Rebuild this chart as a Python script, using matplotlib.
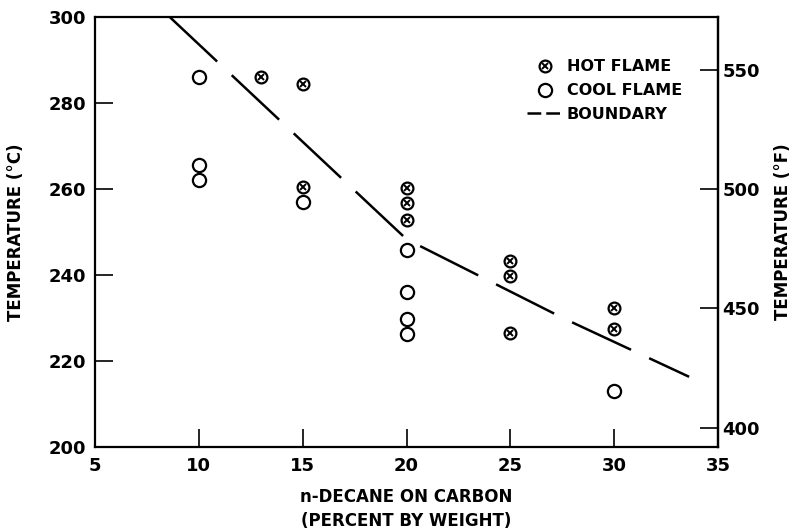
import matplotlib
matplotlib.use("Agg")
import matplotlib.pyplot as plt
from matplotlib.lines import Line2D
from matplotlib.legend_handler import HandlerTuple

# data
hot_x = [13, 15, 15, 20, 20, 20, 25, 25, 25, 30, 30]
hot_y = [286, 284.5, 260.5, 260.3, 256.7, 252.8, 243.3, 239.7, 226.5, 232.2, 227.4]

cool_x = [10, 10, 10, 15, 20, 20, 20, 20, 30]
cool_y = [286, 265.5, 262, 257, 245.8, 236, 229.8, 226.2, 213.1]

bound_x = [8.6, 20, 27.6, 33.6]
bound_y = [300, 248.3, 229.8, 216.3]

x_ticks = [5, 10, 15, 20, 25, 30, 35]
c_ticks = [200, 220, 240, 260, 280, 300]
f_ticks = [400, 450, 500, 550]

plt.rcParams['font.family'] = ['DejaVu Sans']
plt.rcParams['font.weight'] = 'bold'
plt.rcParams['axes.labelweight'] = 'bold'

fig = plt.figure(figsize=(7.91, 5.32), dpi=100)
ax = fig.add_axes([0.120, 0.160, 0.788, 0.808])

# boundary line, long dashes
ax.plot(bound_x, bound_y, color='black', lw=1.8, dashes=(26, 8), clip_on=True)

# cool flame: open circles
ax.plot(cool_x, cool_y, 'o', ms=9.5, mfc='white', mec='black', mew=1.6, ls='none')
# hot flame: circle with a cross inside
ax.plot(hot_x, hot_y, 'o', ms=8.5, mfc='white', mec='black', mew=1.6, ls='none')
ax.plot(hot_x, hot_y, 'x', ms=5, mec='black', mew=1.4, ls='none')

ax.set_xlim(5, 35)
ax.set_ylim(200, 300)
ax.set_xticks(x_ticks)
ax.set_yticks(c_ticks)

for s in ax.spines.values():
    s.set_linewidth(1.6)

ax.tick_params(axis='both', direction='in', length=13, width=1.2, labelsize=13)
ax.tick_params(axis='x', pad=7)
ax.tick_params(axis='y', pad=6)

ax.set_ylabel('TEMPERATURE (°C)', fontsize=12, labelpad=17)
ax.set_xlabel('n-DECANE ON CARBON\n(PERCENT BY WEIGHT)', fontsize=12, labelpad=10,
              linespacing=1.4)

def c2f(c):
    return c * 9.0 / 5.0 + 32


def f2c(f):
    return (f - 32) * 5.0 / 9.0


sec = ax.secondary_yaxis('right', functions=(c2f, f2c))
sec.set_yticks(f_ticks)
sec.tick_params(direction='in', length=13, width=1.2, labelsize=13, pad=3)
sec.spines['right'].set_linewidth(1.6)
sec.set_ylabel('TEMPERATURE (°F)', fontsize=12, labelpad=10)

# legend
h_hot = (Line2D([], [], marker='o', ms=8.5, mfc='white', mec='black', mew=1.6, ls='none'),
         Line2D([], [], marker='x', ms=5, mec='black', mew=1.4, ls='none'))
h_cool = Line2D([], [], marker='o', ms=9.5, mfc='white', mec='black', mew=1.6, ls='none')
h_bound = Line2D([], [], color='black', lw=1.8, dashes=(5.5, 2))
ax.legend([h_hot, h_cool, h_bound], ['HOT FLAME', 'COOL FLAME', 'BOUNDARY'],
          handler_map={tuple: HandlerTuple(ndivide=1)},
          loc='upper right', bbox_to_anchor=(0.955, 0.92), frameon=False,
          fontsize=11.5, handlelength=2.2, handletextpad=0.3, labelspacing=0.55,
          borderpad=0)

fig.savefig('out.png', dpi=100)
